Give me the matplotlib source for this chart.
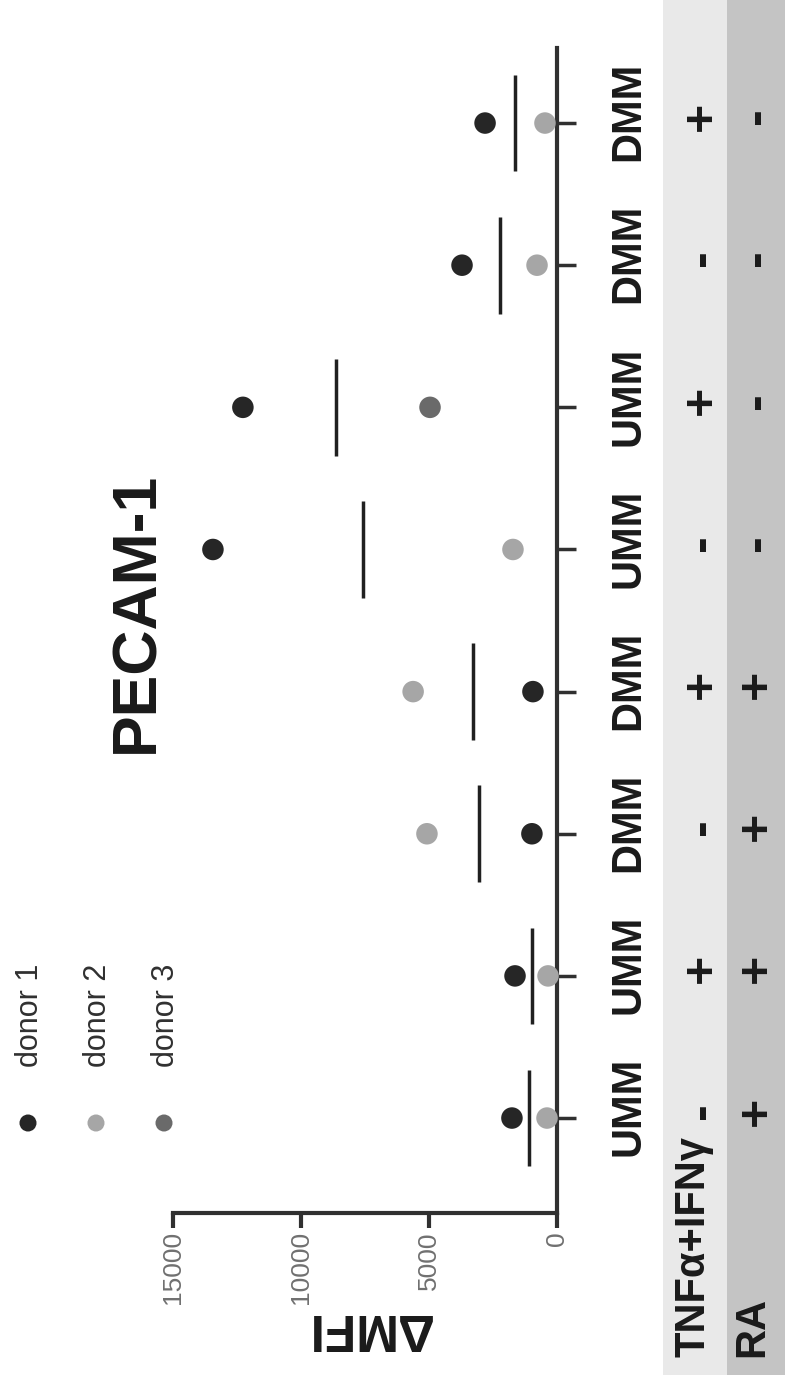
import numpy as np
import matplotlib
matplotlib.use("Agg")
import matplotlib.pyplot as plt
from matplotlib.patches import Rectangle
from matplotlib.transforms import blended_transform_factory

# chart data (original orientation: categories on x, dMFI on y)
cells = ["UMM", "UMM", "DMM", "DMM", "UMM", "UMM", "DMM", "DMM"]
tnf_row = ["-", "+", "-", "+", "-", "+", "-", "+"]
ra_row = ["+", "+", "+", "+", "-", "-", "-", "-"]

donor1 = [1760, 1640, 980, 940, 13440, 12270, 3710, 2810]
donor2 = [390, 350, 5080, 5620, 1720, np.nan, 780, 470]
donor3 = [np.nan, np.nan, np.nan, np.nan, np.nan, 4960, np.nan, np.nan]

value_ticks = [0, 5000, 10000, 15000]
donor_names = ["donor 1", "donor 2", "donor 3"]
donor_colors = ["#262626", "#a6a6a6", "#6a6a6a"]

W, H = 785, 1384
fig = plt.figure(figsize=(W / 100, H / 100), dpi=100)

# background layer in pixel coords (rotated figure)
bg = fig.add_axes([0, 0, 1, 1], zorder=0)
bg.set_xlim(0, W)
bg.set_ylim(H, 0)
bg.axis("off")
bg.add_patch(Rectangle((663, 0), 64, 1375, color="#e9e9e9", lw=0))
bg.add_patch(Rectangle((727, 0), 60, 1375, color="#c4c4c4", lw=0))

sans = ["Liberation Sans", "DejaVu Sans"]

# main axes: value axis horizontal (inverted), categories vertical
ax = fig.add_axes([173 / W, (H - 1213) / H, 384 / W, (1213 - 48) / H], zorder=1)
ax.patch.set_visible(False)
ax.set_xlim(15000, 0)
ax.set_ylim(-0.668, 7.528)
for s in ["top", "left"]:
    ax.spines[s].set_visible(False)
for s in ["right", "bottom"]:
    ax.spines[s].set_linewidth(3)
    ax.spines[s].set_color("#303030")

pos = np.arange(len(cells))
ax.set_xticks(value_ticks)
ax.set_xticklabels([str(v) for v in value_ticks], rotation=90, fontsize=19,
                   color="#707070", family=sans)
ax.tick_params(axis="x", length=11, width=3, color="#303030", pad=2)
ax.yaxis.tick_right()
ax.set_yticks(pos)
ax.set_yticklabels([])
ax.tick_params(axis="y", length=14, width=2.5, color="#303030")

data = np.array([donor1, donor2, donor3], dtype=float)
for i in range(3):
    ax.scatter(data[i], pos, s=240, color=donor_colors[i], zorder=3,
               edgecolors="none", clip_on=False)
means = np.nanmean(data, axis=0)
ax.vlines(means, pos - 0.34, pos + 0.34, color="#202020", lw=2.5, zorder=2)

# category labels and treatment rows
tr = blended_transform_factory(fig.transFigure, ax.transData)
for i in range(len(cells)):
    ax.text(628 / W, pos[i] + 0.08, cells[i], transform=tr, rotation=90,
            ha="center", va="center", fontsize=30, fontweight="bold",
            family=sans, color="#1a1a1a")
    ax.text(702 / W, pos[i] + 0.05, tnf_row[i], transform=tr, rotation=90,
            ha="center", va="center", fontsize=36, fontweight="bold",
            family=sans, color="#1a1a1a")
    ax.text(757 / W, pos[i] + 0.05, ra_row[i], transform=tr, rotation=90,
            ha="center", va="center", fontsize=36, fontweight="bold",
            family=sans, color="#1a1a1a")

bg.text(693, 1357, "TNF\u03b1+IFN\u03b3", rotation=90, ha="center", va="bottom",
        fontsize=30, fontweight="bold", family=sans, color="#1a1a1a")
bg.text(752, 1357, "RA", rotation=90, ha="center", va="bottom",
        fontsize=30, fontweight="bold", family=sans, color="#1a1a1a")

# title and axis label
bg.text(137, 612, "PECAM-1", rotation=90, ha="center", va="center",
        fontsize=45, fontweight="bold", family=sans, color="#1a1a1a")
bg.text(368, 1328, "\u0394MFI", rotation=180, ha="center", va="center",
        fontsize=37, fontweight="bold", family=sans, color="#1a1a1a")

# legend
for k, (name, col) in enumerate(zip(donor_names, donor_colors)):
    x = 28 + k * 68
    bg.scatter([x], [1123], s=150, color=col, edgecolors="none")
    bg.text(x + 2, 1067, name, rotation=90, ha="center", va="bottom",
            fontsize=22, family=sans, color="#303030")

fig.savefig("out.png", dpi=100)
